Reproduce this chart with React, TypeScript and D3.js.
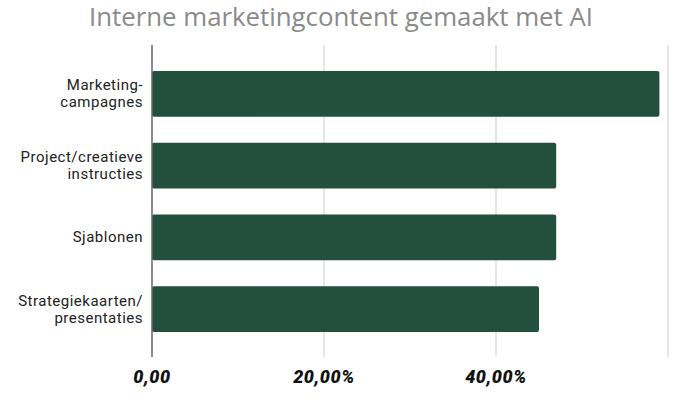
import React from 'react';
import * as d3 from 'd3';

const categories = [
  ['Marketing-', 'campagnes'],
  ['Project/creatieve', 'instructies'],
  ['Sjablonen'],
  ['Strategiekaarten/', 'presentaties'],
];
const values = [59, 47, 47, 45];
const ticks = [0, 20, 40, 60];
const tickLabels = ['0,00', '20,00%', '40,00%', ''];
const title = 'Interne marketingcontent gemaakt met AI';

const width = 680;
const height = 400;
const margin = { top: 58, right: 12, bottom: 55, left: 152 };

const App: React.FC = () => {
  const x = d3
    .scaleLinear()
    .domain([0, 60])
    .range([margin.left, 668]);

  const y = d3
    .scaleBand<number>()
    .domain(d3.range(categories.length))
    .range([margin.top, height - margin.bottom])
    .paddingInner(0.36)
    .paddingOuter(0.18);

  const lineH = 17;

  return (
    <svg
      width={width}
      height={height}
      style={{ position: 'absolute', left: 0, top: 0, background: '#fff' }}
      fontFamily="Roboto, 'Open Sans', sans-serif"
    >
      <text
        x={341}
        y={26}
        textAnchor="middle"
        fontSize={25}
        fill="#8a8a8a"
        fontFamily="'Open Sans', sans-serif"
        textLength={504}
        lengthAdjust="spacingAndGlyphs"
      >
        {title}
      </text>

      {/* grid lines */}
      {ticks.slice(1).map((t) => (
        <line
          key={t}
          x1={x(t)}
          x2={x(t)}
          y1={45}
          y2={357}
          stroke="#d6d6d6"
          strokeWidth={1.2}
        />
      ))}

      {/* bars */}
      {values.map((v, i) => (
        <rect
          key={i}
          x={x(0)}
          y={y(i)}
          width={x(v) - x(0)}
          height={y.bandwidth()}
          rx={2}
          fill="#224f3e"
        />
      ))}

      {/* baseline axis */}
      <line x1={x(0)} x2={x(0)} y1={45} y2={357} stroke="#666" strokeWidth={1.5} />

      {/* category labels */}
      {categories.map((lines, i) => {
        const cy = (y(i) ?? 0) + y.bandwidth() / 2;
        const start = cy + 5 - ((lines.length - 1) * lineH) / 2;
        return (
          <text key={i} textAnchor="end" fontSize={15} fill="#222" letterSpacing={0.5}>
            {lines.map((l, j) => (
              <tspan key={j} x={143} y={start + j * lineH}>
                {l}
              </tspan>
            ))}
          </text>
        );
      })}

      {/* x tick labels */}
      {ticks.map((t, i) => (
        <text
          key={t}
          x={x(t)}
          y={383}
          textAnchor="middle"
          fontSize={18}
          fontWeight={900}
          fontStyle="italic"
          fill="#111"
          letterSpacing={0.6}
        >
          {tickLabels[i]}
        </text>
      ))}
    </svg>
  );
};

export default App;
